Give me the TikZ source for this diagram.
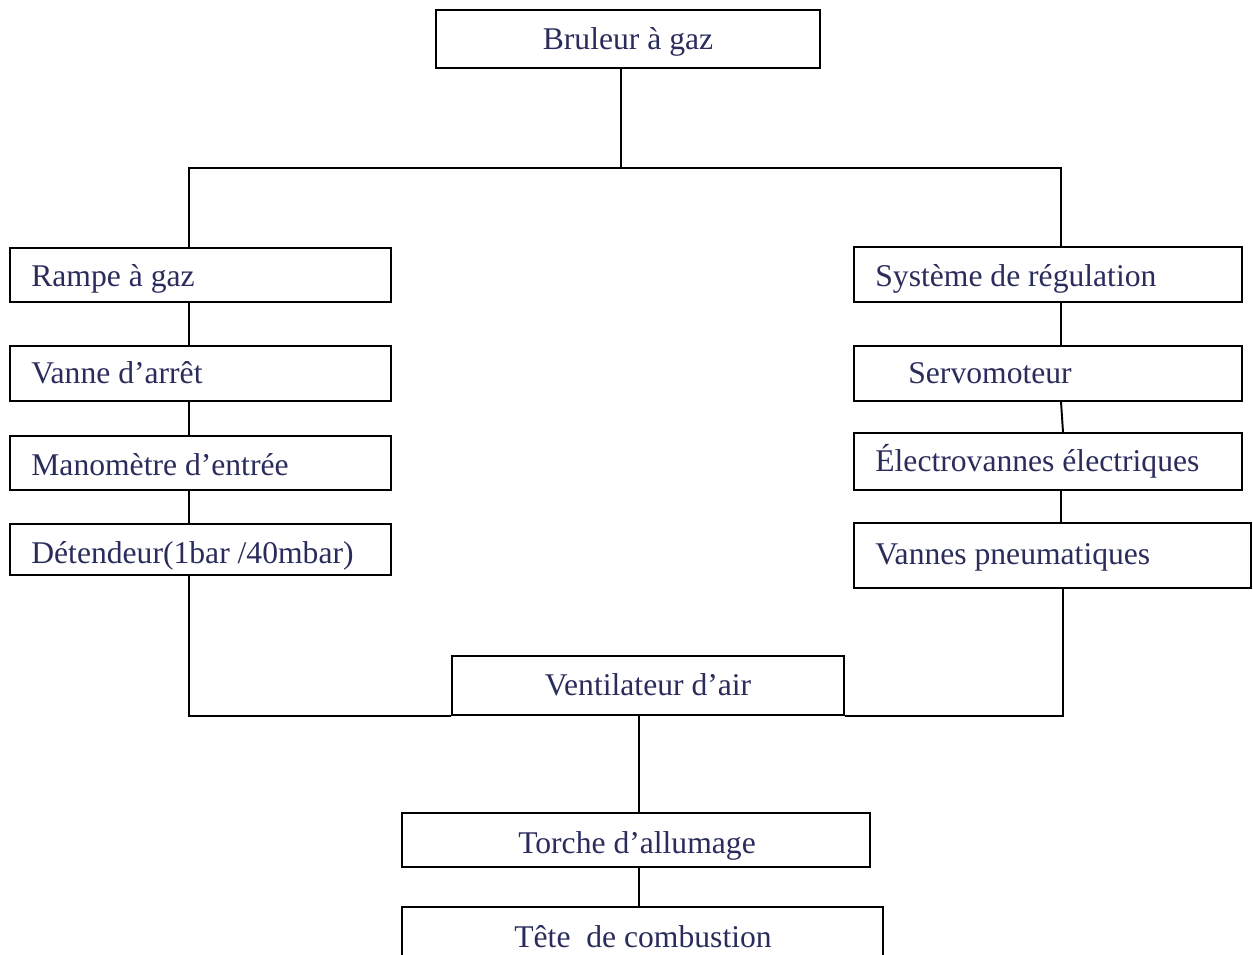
\documentclass[tikz,border=0pt]{standalone}
\usepackage{fontspec}
\setmainfont{Liberation Serif}
\usetikzlibrary{fit}
\definecolor{txt}{RGB}{42,44,92}
\begin{document}
\begin{tikzpicture}[x=0.02cm,y=-0.02cm,
  box/.style={draw=black, line width=1.1pt, inner sep=0pt, fit={#1}},
  lbl/.style={text=txt, font=\fontsize{18}{21}\selectfont, inner sep=0pt, anchor=base west},
  clbl/.style={text=txt, font=\fontsize{18}{21}\selectfont, inner sep=0pt, anchor=base},
  wire/.style={draw=black, line width=1.1pt}]
\clip (0,0) rectangle (1253,955);

% top box
\node[box={(436,10) (820,68)}] (bru) {};
\node[clbl] (bruT) at (628,50) {Bruleur à gaz};

% left column: gas train
\node[box={(10,248) (391,302)}] (rampe) {};
\node[lbl] (rampeT) at (31,287) {Rampe à gaz};
\node[box={(10,346) (391,401)}] (vanne) {};
\node[lbl] (vanneT) at (31,384) {Vanne d’arrêt};
\node[box={(10,436) (391,490)}] (mano) {};
\node[lbl] (manoT) at (31,476) {Manomètre d’entrée};
\node[box={(10,524) (391,575)}] (deten) {};
\node[lbl] (detenT) at (31,563) {Détendeur(1bar /40mbar)};

% right column: control system
\node[box={(854,247) (1242,302)}] (sys) {};
\node[lbl] (sysT) at (875,287) {Système de régulation};
\node[box={(854,346) (1242,401)}] (servo) {};
\node[lbl] (servoT) at (908,384) {Servomoteur};
\node[box={(854,433) (1242,490)}] (elec) {};
\node[lbl] (elecT) at (875,472) {Électrovannes électriques};
\node[box={(854,523) (1251,588)}] (vpn) {};
\node[lbl] (vpnT) at (875,564) {Vannes pneumatiques};

% bottom chain
\node[box={(452,656) (844,715)}] (vent) {};
\node[clbl] (ventT) at (648,695) {Ventilateur d’air};
\node[box={(402,813) (870,867)}] (torche) {};
\node[clbl] (torcheT) at (637,853) {Torche d’allumage};
\node[box={(402,907) (883,975)}] (tete) {};
\node[clbl] (teteT) at (643,947) {Tête\ \ de combustion};

% connector coordinates
\coordinate (split) at (621,168);
\coordinate (lc) at (189,168);
\coordinate (rc) at (1061,168);
\coordinate (rc2) at (1063,600);
\coordinate (mc) at (639,760);

% branches from the burner
\draw[wire] (split |- bru.south) -- (split);
\draw[wire] (rampe.north -| lc) -- (lc) -- (rc) -- (sys.north -| rc);

% left chain
\draw[wire] (rampe.south -| lc) -- (vanne.north -| lc);
\draw[wire] (vanne.south -| lc) -- (mano.north -| lc);
\draw[wire] (mano.south -| lc) -- (deten.north -| lc);
\draw[wire] (deten.south -| lc) -- (lc |- vent.south) -- (vent.south west);

% right chain
\draw[wire] (sys.south -| rc) -- (servo.north -| rc);
\draw[wire] (servo.south -| rc) -- (elec.north -| rc2);
\draw[wire] (elec.south -| rc) -- (vpn.north -| rc);
\draw[wire] (vpn.south -| rc2) -- (rc2 |- vent.south) -- (vent.south east);

% down to the combustion head
\draw[wire] (mc |- vent.south) -- (mc |- torche.north);
\draw[wire] (mc |- torche.south) -- (mc |- tete.north);
\end{tikzpicture}
\end{document}
